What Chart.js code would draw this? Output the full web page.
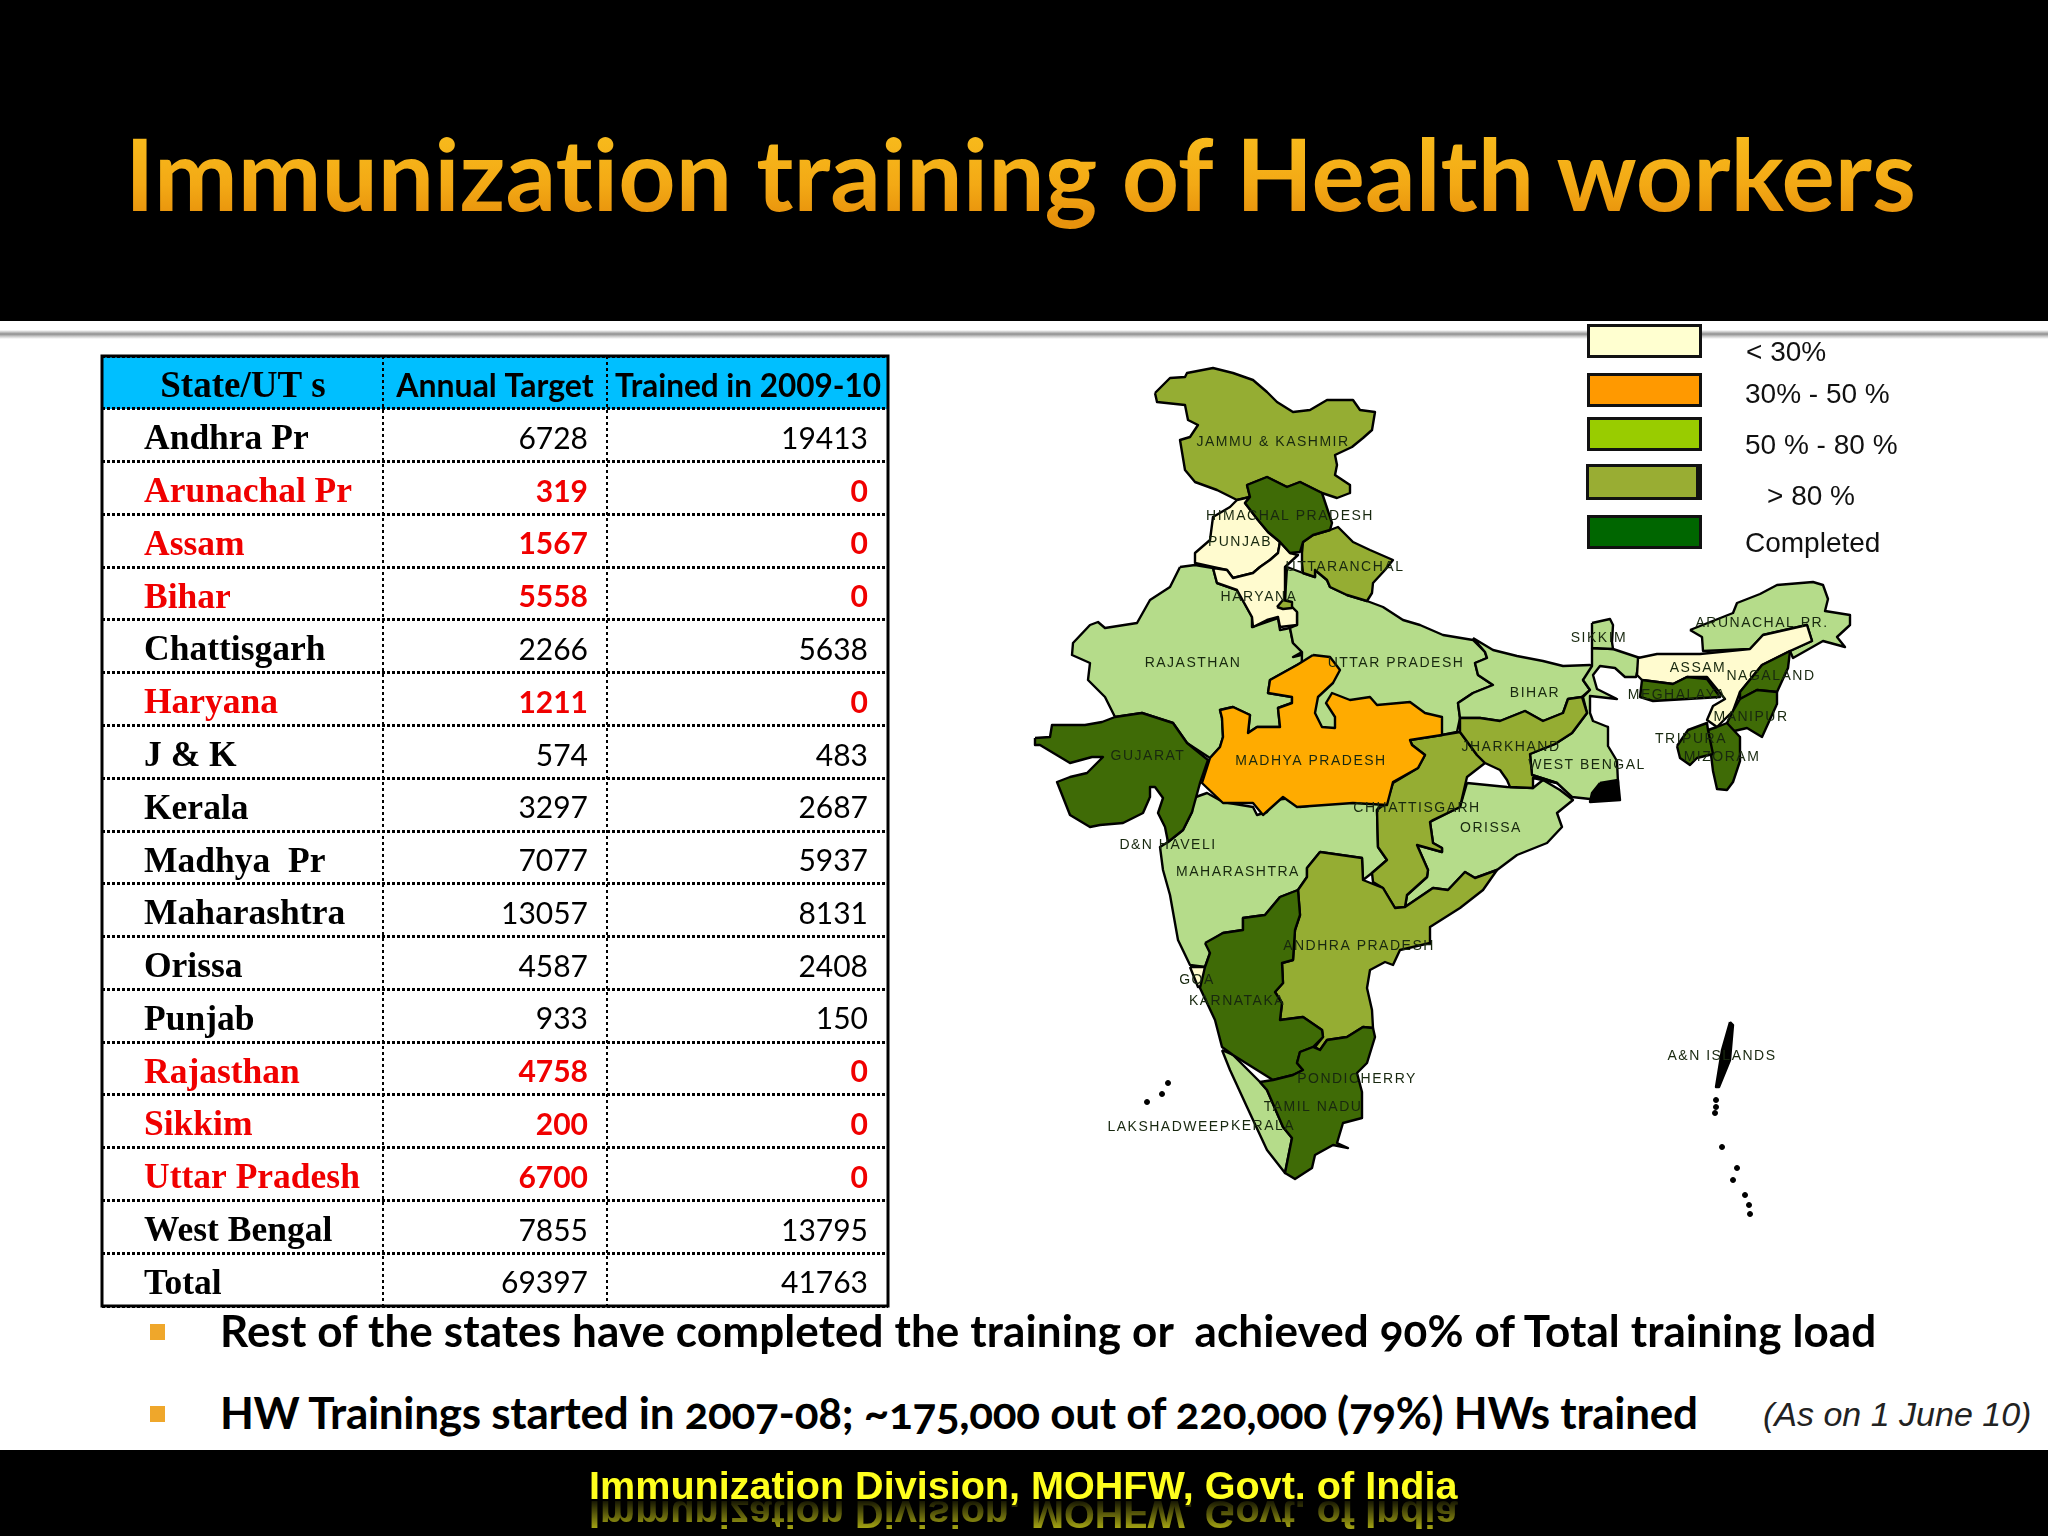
<!DOCTYPE html>
<html>
<head>
<meta charset="utf-8">
<title>Immunization training of Health workers</title>
<script src="https://cdn.jsdelivr.net/npm/chart.js@4"></script>
<style>
  html, body { margin: 0; padding: 0; background: #fff; }
  #slide { position: relative; width: 2048px; height: 1536px; overflow: hidden; background: #fff; }
  #slide > * { position: absolute; }
  .band { left: 0; width: 2048px; background: #000; }
  #rule { left: 0; top: 330px; width: 2048px; height: 9px; background: linear-gradient(#fff, #8f8f8f 45%, #c8c8c8 70%, #fff); }
  #title { left: 125px; top: 108px; font: 700 100px/128px Lato, sans-serif; white-space: nowrap; font-variant-ligatures: none;
           background: linear-gradient(#f8bb1c 20%, #f3a915 60%, #e8930c 85%);
           -webkit-background-clip: text; background-clip: text; color: transparent; }
  .bullet { left: 150px; width: 15px; height: 16px; background: #efa72b; }
  .note { left: 220px; font: 700 44px/50px Lato, sans-serif; color: #000; white-space: nowrap; font-variant-numeric: oldstyle-nums; }
  #asOn { left: 1763px; top: 1396px; font: italic 34px/36px "Liberation Sans", sans-serif; color: #222; white-space: nowrap; }
  #footer { left: 589px; top: 1462px; font: 700 39.6px/46px "Liberation Sans", sans-serif; color: #ffff1e; white-space: nowrap;
            -webkit-box-reflect: below -16px linear-gradient(rgba(255,255,255,.7) 15%, transparent 90%); }
  .swatch { left: 1587px; width: 115px; box-sizing: border-box; border: 3px solid #111; }
  .key { font: 28px/34px "Liberation Sans", sans-serif; color: #111; white-space: nowrap; }
</style>
</head>
<body>
<div id="slide">
  <div class="band" style="top:0;height:321px"></div>
  <div id="rule"></div>
  <div id="title">Immunization training of Health workers</div>

  <canvas id="tableChart" width="792" height="956" style="left:99px;top:353px"></canvas>
  <canvas id="mapChart" width="900" height="920" style="left:1020px;top:340px"></canvas>

  <div class="swatch" style="top:324px;height:34px;background:#ffffd0"></div>
  <div class="swatch" style="top:373px;height:34px;background:#ff9900"></div>
  <div class="swatch" style="top:417px;height:34px;background:#99cc00"></div>
  <div class="swatch" style="top:464px;left:1586px;width:116px;height:36px;background:#99ad33;border-right-width:6px"></div>
  <div class="swatch" style="top:515px;height:34px;background:#006600"></div>
  <div class="key" style="left:1746px;top:335px">&lt; 30%</div>
  <div class="key" style="left:1745px;top:377px">30% - 50 %</div>
  <div class="key" style="left:1745px;top:428px">50 % - 80 %</div>
  <div class="key" style="left:1767px;top:479px">&gt; 80 %</div>
  <div class="key" style="left:1745px;top:526px">Completed</div>

  <div class="bullet" style="top:1324px"></div>
  <div class="note" style="top:1305px;letter-spacing:.11px">Rest of the states have completed the training or&nbsp; achieved 90% of Total training load</div>
  <div class="bullet" style="top:1406px"></div>
  <div class="note" style="top:1387px;letter-spacing:-.28px">HW Trainings started in 2007-08; ~175,000 out of 220,000 (79%) HWs trained</div>
  <div id="asOn">(As on 1 June 10)</div>

  <div class="band" style="top:1450px;height:86px"></div>
  <div id="footer">Immunization Division, MOHFW, Govt. of India</div>
</div>

<script>
// table values
const tableHeader = ['State/UT s', 'Annual Target', 'Trained in 2009-10'];
const states = ['Andhra Pr', 'Arunachal Pr', 'Assam', 'Bihar', 'Chattisgarh', 'Haryana', 'J & K', 'Kerala', 'Madhya  Pr', 'Maharashtra', 'Orissa', 'Punjab', 'Rajasthan', 'Sikkim', 'Uttar Pradesh', 'West Bengal', 'Total'];
const annualTarget = [6728, 319, 1567, 5558, 2266, 1211, 574, 3297, 7077, 13057, 4587, 933, 4758, 200, 6700, 7855, 69397];
const trained = [19413, 0, 0, 0, 5638, 0, 483, 2687, 5937, 8131, 2408, 150, 0, 0, 0, 13795, 41763];
const notStarted = ['Arunachal Pr', 'Assam', 'Bihar', 'Haryana', 'Rajasthan', 'Sikkim', 'Uttar Pradesh'];

// map outlines
const jammuKashmir = [[1155,393],[1170,378],[1185,377],[1187,373],[1213,368],[1233,373],[1253,380],[1267,392],[1277,402],[1293,412],[1310,410],[1327,400],[1353,400],[1360,410],[1375,412],[1372,430],[1363,438],[1352,447],[1335,455],[1337,465],[1335,475],[1350,485],[1350,493],[1337,498],[1322,493],[1300,482],[1287,487],[1267,477],[1247,485],[1250,497],[1237,500],[1217,490],[1195,482],[1185,470],[1180,440],[1190,437],[1198,425],[1188,420],[1185,405],[1157,402]];
const himachal = [[1247,485],[1267,477],[1287,487],[1300,482],[1322,493],[1332,523],[1330,530],[1313,535],[1303,542],[1300,552],[1290,553],[1280,542],[1268,532],[1258,520],[1245,503],[1250,497]];
const punjab = [[1237,500],[1250,497],[1245,503],[1258,520],[1268,532],[1280,542],[1278,553],[1270,560],[1260,567],[1253,573],[1233,578],[1227,570],[1213,567],[1195,563],[1195,553],[1210,540],[1213,517],[1230,507]];
const haryana = [[1280,542],[1290,553],[1298,555],[1285,567],[1285,600],[1297,612],[1297,625],[1280,627],[1278,617],[1267,620],[1253,627],[1252,617],[1237,590],[1217,583],[1213,568],[1227,570],[1233,578],[1253,573],[1260,567],[1270,560],[1278,553]];
const delhi = [[1277,607],[1283,600],[1292,602],[1292,608],[1283,609]];
const uttaranchal = [[1302,553],[1303,542],[1313,535],[1330,530],[1338,527],[1353,542],[1370,550],[1393,560],[1385,570],[1373,583],[1372,593],[1367,601],[1347,595],[1330,587],[1327,580],[1315,570],[1315,577],[1303,573],[1302,563]];
const rajasthan = [[1180,567],[1195,565],[1213,568],[1217,583],[1237,590],[1252,617],[1252,627],[1278,618],[1280,630],[1290,628],[1293,643],[1302,652],[1293,657],[1313,652],[1317,655],[1297,665],[1270,680],[1268,693],[1292,697],[1292,703],[1278,708],[1280,727],[1257,727],[1248,733],[1250,715],[1233,707],[1220,710],[1222,718],[1223,737],[1220,747],[1210,758],[1187,743],[1173,723],[1142,713],[1115,717],[1105,697],[1088,680],[1090,663],[1072,655],[1073,643],[1090,625],[1098,622],[1105,628],[1137,623],[1150,600],[1170,587]];
const uttarPradesh = [[1287,567],[1303,573],[1315,577],[1315,570],[1327,580],[1330,587],[1347,595],[1367,601],[1383,607],[1403,620],[1420,625],[1443,635],[1473,640],[1485,652],[1487,658],[1475,663],[1478,675],[1493,685],[1473,693],[1458,703],[1460,718],[1457,732],[1442,735],[1400,725],[1340,745],[1300,745],[1302,652],[1293,643],[1290,628],[1297,625],[1297,612],[1285,600]];
const madhyaPradesh = [[1313,655],[1330,657],[1340,670],[1333,683],[1318,697],[1315,713],[1322,727],[1335,728],[1335,717],[1326,703],[1332,693],[1350,700],[1370,697],[1377,705],[1410,702],[1425,713],[1442,717],[1442,735],[1410,740],[1412,745],[1425,755],[1418,768],[1393,782],[1387,805],[1353,803],[1297,807],[1283,797],[1263,815],[1253,803],[1223,803],[1202,783],[1210,758],[1220,747],[1223,737],[1222,718],[1220,710],[1233,707],[1250,715],[1248,733],[1257,727],[1280,727],[1278,708],[1292,703],[1292,697],[1268,693],[1270,680],[1297,665]];
const gujarat = [[1035,738],[1050,737],[1052,725],[1085,725],[1102,722],[1115,717],[1142,713],[1173,723],[1187,743],[1208,760],[1200,783],[1192,812],[1183,830],[1168,842],[1165,827],[1158,813],[1163,798],[1155,787],[1150,787],[1150,797],[1143,813],[1123,823],[1100,825],[1090,827],[1070,815],[1057,782],[1070,777],[1087,773],[1103,757],[1092,757],[1070,763],[1040,745],[1035,745]];
const maharashtra = [[1193,798],[1207,793],[1223,802],[1253,807],[1257,815],[1267,812],[1273,800],[1293,798],[1300,807],[1330,803],[1353,802],[1383,802],[1377,810],[1378,847],[1387,860],[1372,873],[1363,880],[1362,858],[1320,852],[1307,868],[1307,877],[1298,890],[1280,897],[1265,915],[1243,918],[1243,930],[1223,933],[1207,943],[1210,953],[1205,967],[1190,965],[1178,940],[1170,895],[1163,870],[1160,847],[1168,842],[1183,830],[1192,812]];
const goa = [[1190,967],[1205,967],[1205,985],[1198,987]];
const karnataka = [[1205,943],[1223,933],[1243,930],[1243,918],[1265,915],[1280,897],[1298,890],[1300,915],[1295,930],[1293,960],[1282,963],[1283,983],[1275,992],[1282,1003],[1280,1020],[1303,1017],[1322,1030],[1323,1037],[1313,1047],[1300,1052],[1297,1063],[1303,1070],[1293,1075],[1273,1080],[1233,1055],[1222,1047],[1215,1020],[1200,988],[1205,967],[1210,953]];
const andhraPradesh = [[1320,852],[1362,858],[1363,880],[1383,888],[1395,908],[1405,907],[1433,888],[1448,890],[1465,872],[1475,878],[1497,870],[1483,890],[1460,908],[1430,927],[1430,943],[1400,950],[1393,965],[1385,962],[1370,970],[1367,988],[1372,1010],[1373,1028],[1363,1027],[1347,1037],[1327,1040],[1320,1050],[1315,1047],[1323,1037],[1322,1030],[1303,1017],[1280,1020],[1282,1003],[1275,992],[1283,983],[1282,963],[1293,960],[1295,930],[1300,915],[1298,890],[1307,877],[1307,868]];
const tamilNadu = [[1373,1028],[1375,1037],[1367,1063],[1357,1073],[1362,1092],[1362,1118],[1343,1123],[1337,1143],[1348,1148],[1333,1145],[1315,1155],[1312,1168],[1295,1179],[1285,1173],[1292,1138],[1283,1127],[1267,1090],[1260,1082],[1273,1080],[1293,1075],[1303,1070],[1297,1063],[1300,1052],[1313,1047],[1320,1050],[1327,1040],[1347,1037],[1363,1027]];
const kerala = [[1222,1050],[1233,1055],[1260,1082],[1267,1090],[1283,1127],[1292,1138],[1285,1173],[1267,1150],[1247,1107],[1230,1070]];
const chattisgarh = [[1442,735],[1460,732],[1477,755],[1485,763],[1467,777],[1460,807],[1433,820],[1430,822],[1433,843],[1442,848],[1442,852],[1417,845],[1428,870],[1427,877],[1407,895],[1405,907],[1395,908],[1383,888],[1373,882],[1372,873],[1387,860],[1378,847],[1377,810],[1387,802],[1393,783],[1418,768],[1425,755],[1412,745],[1410,740]];
const orissa = [[1467,783],[1507,787],[1533,788],[1543,780],[1560,790],[1573,800],[1557,813],[1562,827],[1547,843],[1517,855],[1497,870],[1475,878],[1465,872],[1448,890],[1433,888],[1405,907],[1407,895],[1427,877],[1428,870],[1417,845],[1442,852],[1442,848],[1433,843],[1430,822],[1460,807]];
const jharkhand = [[1460,718],[1480,718],[1500,721],[1525,711],[1543,721],[1563,713],[1568,699],[1582,697],[1587,713],[1572,733],[1555,744],[1530,754],[1532,775],[1557,783],[1533,778],[1533,788],[1510,787],[1507,780],[1500,770],[1485,763],[1477,755],[1460,732]];
const bihar = [[1473,638],[1493,650],[1517,656],[1543,661],[1563,666],[1590,665],[1598,668],[1583,680],[1590,690],[1582,697],[1568,699],[1563,713],[1543,721],[1525,711],[1500,721],[1480,718],[1460,718],[1458,703],[1473,693],[1493,685],[1478,675],[1475,663],[1487,658],[1485,652]];
const westBengal = [[1592,648],[1613,649],[1640,658],[1636,677],[1625,677],[1615,668],[1600,666],[1593,675],[1597,689],[1617,699],[1590,696],[1590,713],[1593,721],[1608,727],[1608,746],[1617,761],[1618,783],[1590,799],[1572,797],[1557,783],[1532,775],[1530,754],[1555,744],[1572,733],[1587,713],[1583,697],[1590,690],[1583,680],[1592,666]];
const sundarbans = [[1600,783],[1618,780],[1620,800],[1590,802],[1592,793]];
const sikkim = [[1592,623],[1610,619],[1613,625],[1612,642],[1613,649],[1592,648]];
const assam = [[1638,658],[1657,654],[1700,654],[1750,649],[1763,635],[1807,625],[1812,641],[1790,651],[1762,665],[1740,692],[1733,711],[1717,727],[1707,720],[1713,706],[1725,699],[1707,677],[1687,677],[1673,684],[1642,680],[1637,675]];
const arunachal = [[1690,630],[1733,613],[1737,603],[1760,594],[1777,585],[1813,582],[1823,585],[1828,599],[1825,611],[1850,615],[1850,625],[1837,637],[1845,647],[1823,641],[1793,658],[1790,651],[1812,641],[1807,625],[1763,635],[1750,649],[1703,651],[1702,637]];
const meghalaya = [[1642,680],[1673,684],[1687,677],[1707,679],[1720,697],[1687,699],[1653,701],[1640,697]];
const nagaland = [[1762,665],[1790,651],[1788,668],[1777,692],[1757,690],[1740,699],[1740,692]];
const manipur = [[1740,699],[1757,690],[1777,692],[1777,704],[1762,737],[1747,728],[1730,732],[1727,723],[1733,711]];
const mizoram = [[1717,727],[1727,723],[1740,737],[1740,761],[1733,782],[1727,790],[1717,789],[1713,771],[1708,730]];
const tripura = [[1677,746],[1688,730],[1707,723],[1708,730],[1713,754],[1697,758],[1690,765],[1680,758]];
const andaman = [[1730,1022],[1722,1050],[1716,1087],[1719,1087],[1730,1060],[1733,1025]];
const islandDots = [[1168,1083],[1162,1094],[1147,1102],[1716,1100],[1716,1107],[1715,1113],[1722,1147],[1737,1168],[1733,1180],[1745,1195],[1749,1205],[1750,1214]];

const CREAM = '#fffbcf', ORANGE = '#ffab00', LIGHT = '#b5dc8a', OLIVE = '#95ad33', DARK = '#3f6b06';
// listed bottom to top
const regions = [
  [rajasthan, LIGHT], [uttarPradesh, LIGHT], [bihar, LIGHT], [westBengal, LIGHT], [sikkim, LIGHT], [orissa, LIGHT], [maharashtra, LIGHT], [kerala, LIGHT], [arunachal, LIGHT],
  [jammuKashmir, OLIVE], [uttaranchal, OLIVE], [chattisgarh, OLIVE], [jharkhand, OLIVE], [andhraPradesh, OLIVE],
  [punjab, CREAM], [haryana, CREAM], [goa, CREAM], [assam, CREAM], [delhi, OLIVE],
  [madhyaPradesh, ORANGE],
  [himachal, DARK], [gujarat, DARK], [karnataka, DARK], [tamilNadu, DARK], [meghalaya, DARK], [nagaland, DARK], [manipur, DARK], [mizoram, DARK], [tripura, DARK],
  [sundarbans, '#000'], [andaman, '#000']
];

// name, centre x, centre y on the map scale
const mapLabels = [
  ['JAMMU & KASHMIR', 1273, 442], ['HIMACHAL PRADESH', 1290, 516], ['PUNJAB', 1240, 542], ['UTTARANCHAL', 1345, 567],
  ['HARYANA', 1259, 597], ['RAJASTHAN', 1193, 663], ['UTTAR PRADESH', 1396, 663], ['GUJARAT', 1148, 756],
  ['MADHYA PRADESH', 1311, 761], ['CHHATTISGARH', 1417, 808], ['ORISSA', 1491, 828], ['D&N HAVELI', 1168, 845],
  ['MAHARASHTRA', 1238, 872], ['ANDHRA PRADESH', 1359, 946], ['GOA', 1197, 980], ['KARNATAKA', 1237, 1001],
  ['PONDICHERRY', 1357, 1079], ['TAMIL NADU', 1313, 1107], ['LAKSHADWEEP', 1169, 1127], ['KERALA', 1263, 1126],
  ['A&N ISLANDS', 1722, 1056], ['SIKKIM', 1599, 638], ['ARUNACHAL PR.', 1762, 623], ['ASSAM', 1698, 668],
  ['NAGALAND', 1771, 676], ['BIHAR', 1535, 693], ['MEGHALAYA', 1677, 695], ['MANIPUR', 1751, 717],
  ['JHARKHAND', 1511, 747], ['WEST BENGAL', 1587, 765], ['TRIPURA', 1691, 739], ['MIZORAM', 1722, 757]
];

const toPoints = list => list.map(p => ({ x: p[0], y: p[1] }));

const tableText = {
  id: 'tableText',
  afterDraw(chart) {
    const { ctx, chartArea, scales: { x, y } } = chart;
    ctx.save();
    ctx.textBaseline = 'middle';
    const cell = (i, col, text, font, color, align, nudge) => {
      ctx.font = font;
      ctx.fillStyle = color;
      ctx.textAlign = align;
      ctx.fillText(text, x.getPixelForValue(col), y.getPixelForValue(i) + nudge);
    };
    cell(0, 141, tableHeader[0], 'bold 37px "Liberation Serif"', '#000', 'center', 5);
    cell(0, 393, tableHeader[1], 'bold 32px Lato', '#000', 'center', 4);
    cell(0, 646, tableHeader[2], 'bold 31.5px Lato', '#000', 'center', 4);
    states.forEach((name, i) => {
      const flagged = notStarted.includes(name);
      const color = flagged ? '#f00000' : '#000';
      const weight = flagged ? 'bold ' : '';
      cell(i + 1, 42, name, 'bold 35.5px "Liberation Serif"', color, 'left', 5);
      cell(i + 1, 486, String(annualTarget[i]), weight + '30px Lato', color, 'right', 4);
      cell(i + 1, 766, String(trained[i]), weight + '30px Lato', color, 'right', 4);
    });
    ctx.lineWidth = 3;
    ctx.strokeStyle = '#000';
    ctx.strokeRect(chartArea.left, chartArea.top, chartArea.width, chartArea.height);
    ctx.restore();
  }
};

new Chart(document.getElementById('tableChart'), {
  type: 'bar',
  data: {
    labels: [tableHeader[0]].concat(states),
    datasets: [{
      // the header band is the only filled row
      data: [[0, 786]],
      backgroundColor: '#00bfff',
      barPercentage: 1,
      categoryPercentage: 1
    }]
  },
  options: {
    indexAxis: 'y',
    responsive: false,
    animation: false,
    layout: { padding: 3 },
    plugins: { legend: { display: false }, tooltip: { enabled: false } },
    scales: {
      x: {
        type: 'linear', min: 0, max: 786,
        afterBuildTicks: axis => { axis.ticks = [{ value: 280.5 }, { value: 505 }]; },
        ticks: { display: false },
        border: { display: false, dash: [3, 3] },
        grid: { color: '#000', lineWidth: 2, z: 1, drawTicks: false }
      },
      y: {
        ticks: { display: false },
        border: { display: false, dash: [3, 2] },
        grid: { color: '#000', lineWidth: 3, z: 1, drawTicks: false }
      }
    }
  },
  plugins: [tableText]
});

const mapText = {
  id: 'mapText',
  afterDraw(chart) {
    const { ctx, scales: { x, y } } = chart;
    ctx.save();
    ctx.font = '14px "Liberation Sans"';
    ctx.letterSpacing = '1.5px';
    ctx.fillStyle = '#18280f';
    ctx.textAlign = 'center';
    ctx.textBaseline = 'middle';
    mapLabels.forEach(l => ctx.fillText(l[0], x.getPixelForValue(l[1]), y.getPixelForValue(l[2])));
    ctx.restore();
  }
};

// Chart.js paints the first dataset last, so the list goes in reversed
new Chart(document.getElementById('mapChart'), {
  type: 'scatter',
  data: {
    datasets: [{
      data: toPoints(islandDots),
      backgroundColor: '#000',
      borderColor: '#000',
      pointRadius: 2.5
    }].concat(regions.slice().reverse().map(r => ({
      data: toPoints(r[0].concat([r[0][0]])),
      showLine: true,
      fill: 'shape',
      tension: 0,
      backgroundColor: r[1],
      borderColor: '#000',
      borderWidth: 2.4,
      borderJoinStyle: 'round',
      pointRadius: 0
    })))
  },
  options: {
    responsive: false,
    animation: false,
    layout: { padding: 0, autoPadding: false },
    plugins: { legend: { display: false }, tooltip: { enabled: false } },
    scales: {
      x: { type: 'linear', min: 1020, max: 1920, display: false },
      y: { type: 'linear', min: 340, max: 1260, reverse: true, display: false }
    }
  },
  plugins: [mapText]
});
</script>
</body>
</html>
